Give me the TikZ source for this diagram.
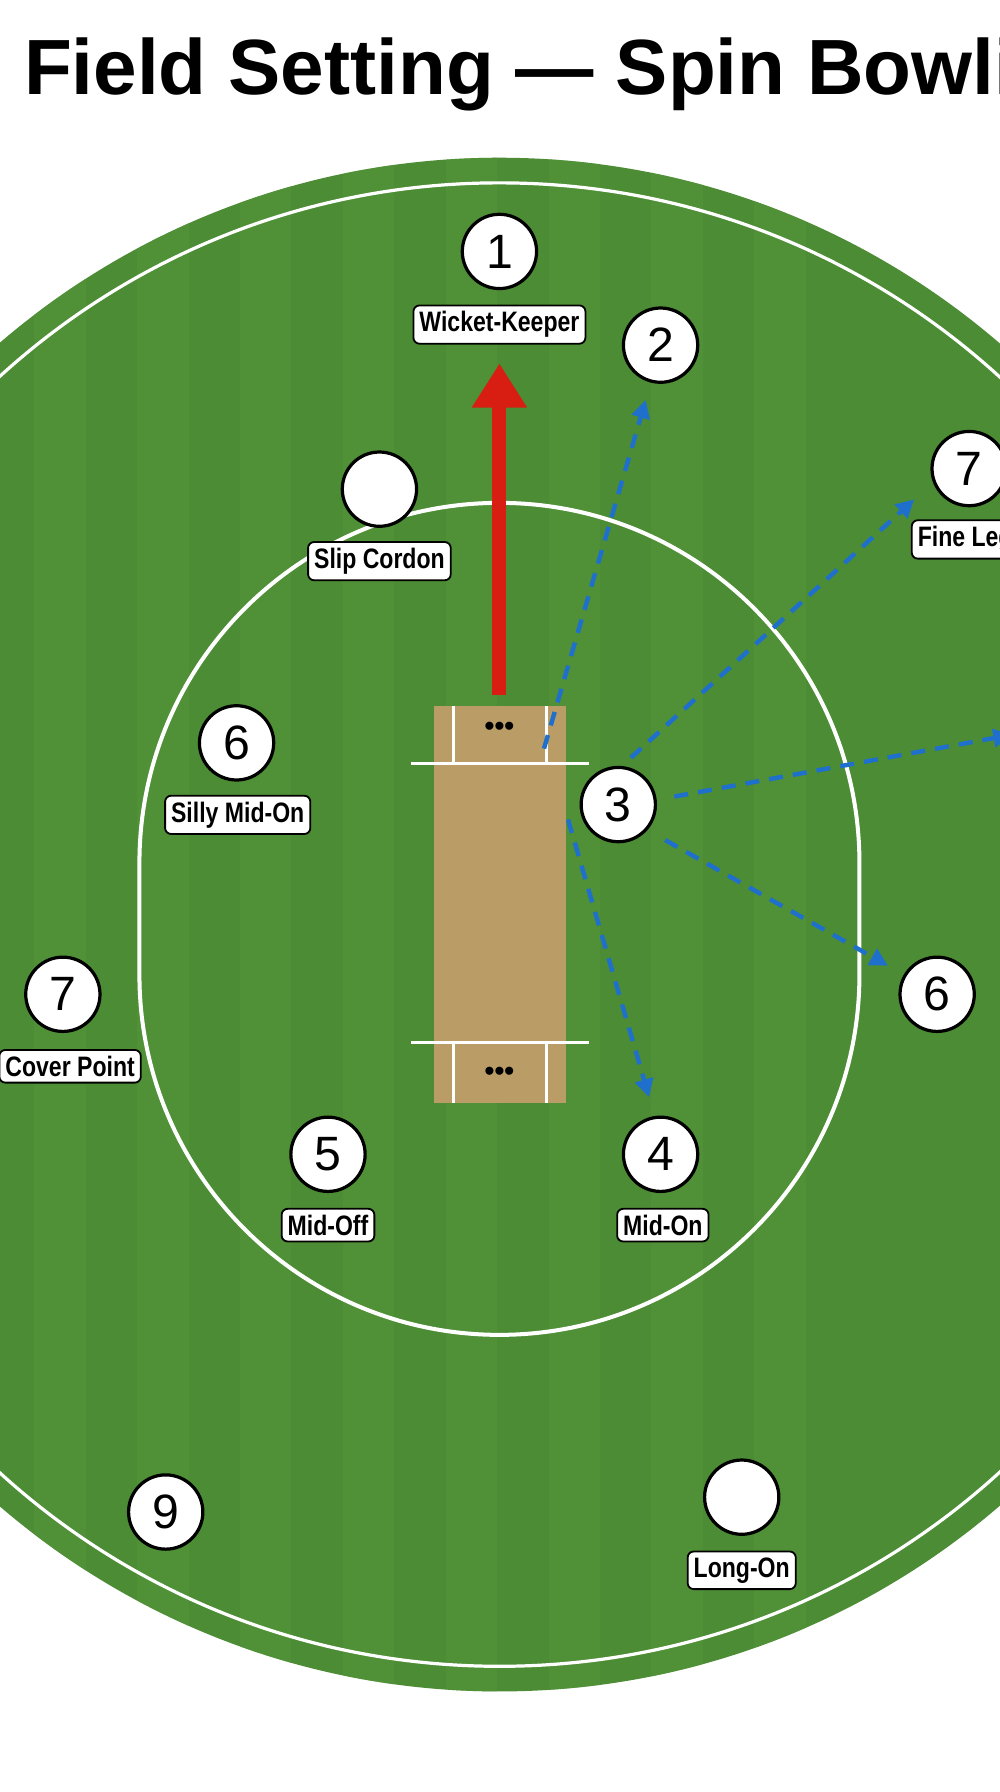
\documentclass[tikz,border=0pt]{standalone}
\usepackage{fontspec}
\setmainfont{Liberation Sans}
\newfontfamily\narrowf[FakeStretch=0.82]{Liberation Sans}
\usetikzlibrary{arrows.meta}
\definecolor{grass}{HTML}{4C8C34}
\definecolor{grasslite}{HTML}{54943A}
\definecolor{pitchc}{HTML}{B99C66}
\definecolor{arrowred}{HTML}{D81E12}
\definecolor{arrowblue}{HTML}{1F6FCC}
\tikzset{
  fielder/.style={circle,draw=black,line width=1.6pt,fill=white,minimum size=1.3cm,inner sep=0pt,font=\fontsize{24}{24}\selectfont},
  tag/.style={draw=black,line width=0.9pt,fill=white,rounded corners=3pt,inner sep=3pt,font=\narrowf\bfseries\fontsize{14}{14}\selectfont},
  blue arrow/.style={draw=arrowblue,line width=2.2pt,dash pattern=on 7pt off 5pt,-{Triangle[length=9pt,width=9pt]}},
  chalk/.style={draw=white,line width=1.6pt}
}
\begin{document}
\begin{tikzpicture}[x=0.02cm,y=-0.02cm]
\useasboundingbox (0,0) rectangle (875,1568);
\clip (0,0) rectangle (875,1568);
\fill[white] (0,0) rectangle (875,1568);
% title
\node[anchor=west,font=\bfseries\fontsize{39}{39}\selectfont] (title) at (-46,65) {g Field Setting — Spin Bowling};
% field
\fill[grass] (437,809) circle (671);
\begin{scope}
\clip (437,809) circle (671);
\foreach \i in {0,...,10} {\fill[grasslite,opacity=0.5] (-240+\i*90,0) rectangle (-195+\i*90,1568);}
\end{scope}
\draw[chalk] (437,809) circle (649);
% inner ring (stadium)
\draw[chalk,line width=2pt] (122,755) arc[start angle=180,end angle=360,radius=315] -- (752,853) arc[start angle=0,end angle=180,radius=315] -- cycle;
% pitch
\fill[pitchc] (380,618) rectangle (495,965);
\draw[chalk] (360,668) -- (515,668);
\draw[chalk] (360,912) -- (515,912);
\draw[chalk] (397,618) -- (397,668) (478,618) -- (478,668);
\draw[chalk] (397,912) -- (397,965) (478,912) -- (478,965);
\node[font=\bfseries\fontsize{14}{14}\selectfont] (stumpsA) at (437,638) {•••};
\node[font=\bfseries\fontsize{14}{14}\selectfont] (stumpsB) at (437,940) {•••};
% fielders
\node[fielder] (f1) at (437,220) {1};
\node[tag] (t1) at (437,284) {Wicket-Keeper};
\node[fielder] (f2) at (578,302) {2};
\node[fielder] (fs) at (332,428) {};
\node[tag] (ts) at (332,491) {Slip Cordon};
\node[fielder] (f7a) at (848,410) {7};
\node[tag,anchor=west] (t7a) at (797,472) {Fine Leg};
\node[fielder] (f6a) at (207,650) {6};
\node[tag] (t6a) at (208,713) {Silly Mid-On};
\node[fielder] (f3) at (541,704) {3};
\node[fielder] (f7b) at (55,870) {7};
\node[tag,anchor=east] (t7b) at (124,933) {Cover Point};
\node[fielder] (f6b) at (820,870) {6};
\node[fielder] (f5) at (287,1010) {5};
\node[tag] (t5) at (287,1072) {Mid-Off};
\node[fielder] (f4) at (578,1010) {4};
\node[tag] (t4) at (580,1072) {Mid-On};
\node[fielder] (f9) at (145,1323) {9};
\node[fielder] (fl) at (649,1310) {};
\node[tag] (tl) at (649,1374) {Long-On};
% red arrow
\coordinate (redS) at (437,608);
\coordinate (redE) at (437,318);
\draw[arrowred,line width=7pt,-{Triangle[length=22pt,width=26pt]}] (redS) -- (redE);
% blue arrows
\coordinate (b1s) at (476,655); \coordinate (b1e) at (565,350);
\coordinate (b2s) at (552,663); \coordinate (b2e) at (800,437);
\coordinate (b3s) at (590,697); \coordinate (b3e) at (885,643);
\coordinate (b4s) at (582,735); \coordinate (b4e) at (777,845);
\coordinate (b5s) at (497,717); \coordinate (b5e) at (568,960);
\draw[blue arrow] (b1s) -- (b1e);
\draw[blue arrow] (b2s) -- (b2e);
\draw[blue arrow] (b3s) -- (b3e);
\draw[blue arrow] (b4s) -- (b4e);
\draw[blue arrow] (b5s) -- (b5e);
\end{tikzpicture}
\end{document}
